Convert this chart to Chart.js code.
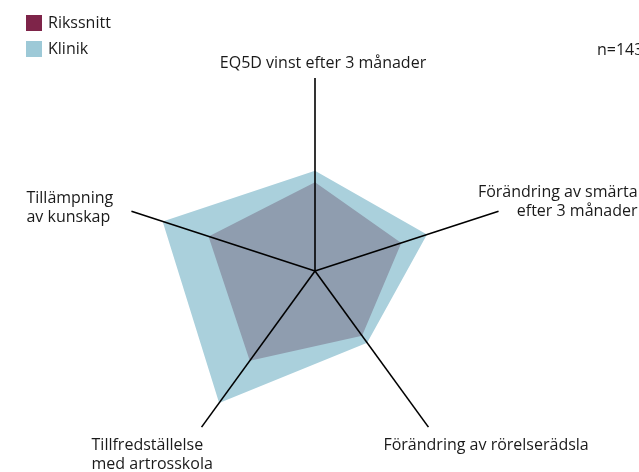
<!DOCTYPE html>
<html>
<head>
<meta charset="utf-8">
<script src="https://cdn.jsdelivr.net/npm/chart.js@4/dist/chart.umd.min.js"></script>
<style>
  html, body { margin: 0; padding: 0; background: #fff; }
  #wrap { width: 639px; height: 472px; overflow: hidden; }
</style>
</head>
<body>
<div id="wrap"><canvas id="radar" width="639" height="472"></canvas></div>
<script>
// axes, clockwise from the top
const axisLabels = [
  ['EQ5D vinst efter 3 månader'],
  ['Förändring av smärta', 'efter 3 månader'],
  ['Förändring av rörelserädsla'],
  ['Tillfredställelse', 'med artrosskola'],
  ['Tillämpning', 'av kunskap']
];
const klinikValues = [52, 61, 46, 84.5, 83];
const rikssnittValues = [46, 47, 41.5, 57.5, 58];
const countText = 'n=143';

const FONT = '16px "Open Sans", sans-serif';

// label placement relative to the end of each axis line
const labelPlacement = [
  { align: 'center', dx: 8, dy: -10 },
  { align: 'right', dx: 139, dy: -14 },
  { align: 'left', dx: -45, dy: 23 },
  { align: 'left', dx: -110, dy: 23 },
  { align: 'left', dx: -105, dy: -8 }
];

const labelPlugin = {
  id: 'axisText',
  afterDraw(chart) {
    const ctx = chart.ctx;
    const scale = chart.scales.r;
    ctx.save();
    ctx.font = FONT;
    ctx.fillStyle = '#1a1a1a';
    ctx.textBaseline = 'alphabetic';
    axisLabels.forEach((lines, i) => {
      const p = scale.getPointPosition(i, scale.drawingArea);
      const pl = labelPlacement[i];
      ctx.textAlign = pl.align;
      lines.forEach((line, j) => {
        ctx.fillText(line, p.x + pl.dx, p.y + pl.dy + j * 18.5);
      });
    });

    // legend
    const items = [
      { text: 'Rikssnitt', color: '#7e2449' },
      { text: 'Klinik', color: '#9dc9d7' }
    ];
    ctx.textAlign = 'left';
    items.forEach((it, i) => {
      ctx.fillStyle = it.color;
      ctx.fillRect(26, 15 + i * 26, 16, 16);
      ctx.fillStyle = '#1a1a1a';
      ctx.fillText(it.text, 48, 28 + i * 25.5);
    });

    ctx.fillText(countText, 597, 55);
    ctx.restore();
  }
};

new Chart(document.getElementById('radar'), {
  type: 'radar',
  data: {
    labels: axisLabels,
    datasets: [
      {
        label: 'Rikssnitt',
        data: rikssnittValues,
        backgroundColor: '#8f9daf',
        borderWidth: 0,
        pointRadius: 0,
        fill: true
      },
      {
        label: 'Klinik',
        data: klinikValues,
        backgroundColor: '#aad0dc',
        borderWidth: 0,
        pointRadius: 0,
        fill: true
      }
    ]
  },
  options: {
    responsive: false,
    animation: false,
    layout: { padding: { top: 78, bottom: 8, left: 0, right: 9 } },
    plugins: {
      legend: { display: false },
      tooltip: { enabled: false }
    },
    scales: {
      r: {
        min: 0,
        max: 100,
        ticks: { display: false },
        grid: { display: false, z: 1 },
        pointLabels: { display: false },
        angleLines: { color: '#000', lineWidth: 1.6 }
      }
    }
  },
  plugins: [labelPlugin]
});
</script>
</body>
</html>
